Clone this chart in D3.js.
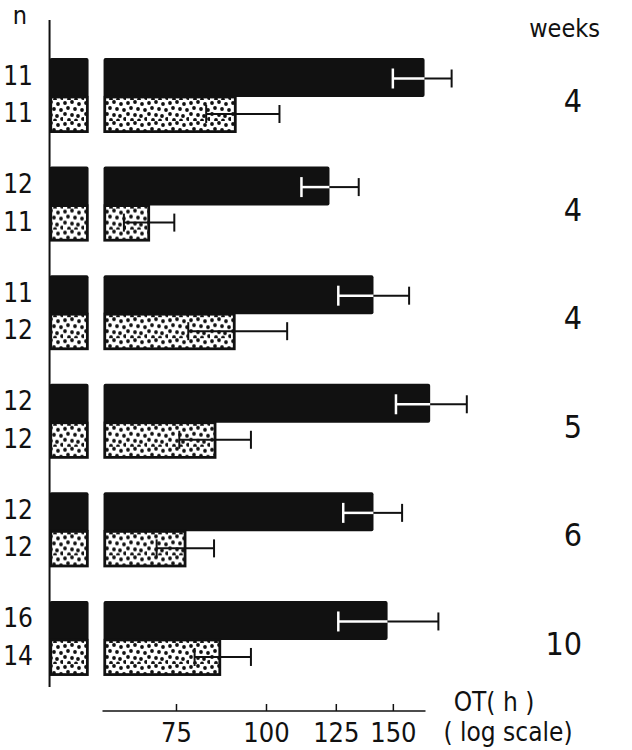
<!DOCTYPE html>
<html>
<head>
<meta charset="utf-8">
<script src="https://cdn.jsdelivr.net/npm/d3@7"></script>
<style>
  html, body { margin: 0; padding: 0; background: #fff; }
  svg text { font-family: 'Liberation Sans Narrow', 'DejaVu Sans Condensed', 'Liberation Sans', sans-serif; fill: #111; }
</style>
</head>
<body>
<svg id="chart" width="632" height="750"></svg>
<script>
// Operating time (h, log scale), mean with error-bar ends, six experiments
const groups      = [0, 1, 2, 3, 4, 5];
const weeks       = ["4", "4", "4", "5", "6", "10"];
const nBlack      = ["11", "12", "11", "12", "12", "16"];
const nDotted     = ["11", "11", "12", "12", "12", "14"];

const blackMean   = [166, 122.5, 141, 169, 141, 147.5];
const blackLow    = [150, 112, 126, 151.5, 128, 126];
const blackHigh   = [181, 134.5, 158, 190, 154.5, 173.5];

const dottedMean  = [91, 69, 90.7, 85.3, 77.5, 86.6];
const dottedLow   = [82.6, 63.5, 78, 75.8, 70.5, 79.6];
const dottedHigh  = [104.4, 74.6, 107, 95.3, 84.7, 95.3];

const tickValues  = [75, 100, 125, 150];
const axisDomain  = [59.3, 166.5];
const barBase     = 59.5;

const svg = d3.select("#chart");

// dotted fill texture
const defs = svg.append("defs");
const pat = defs.append("pattern")
  .attr("id", "dots").attr("patternUnits", "userSpaceOnUse")
  .attr("width", 21).attr("height", 21);
pat.append("rect").attr("width", 21).attr("height", 21).attr("fill", "#fff");
[[2,3],[9,2],[16,4],[5,8],[12,9],[19,10],[2,14],[9,15],[15,16],[6,20],[13,20.5],[20,19]]
  .forEach(([cx, cy]) => pat.append("circle").attr("cx", cx).attr("cy", cy).attr("r", 1.9).attr("fill", "#111"));

const x = d3.scaleLog().domain(axisDomain).range([102.5, 425.5]);
const y = d3.scaleBand().domain(groups).range([58, 676]).paddingInner(0.309);

const blackH = 39, dottedH = 36;
const leftX = x(barBase) - 54;
const stubW = 39;

// left vertical axis
svg.append("line")
  .attr("x1", leftX).attr("x2", leftX)
  .attr("y1", 20).attr("y2", 687)
  .attr("stroke", "#111").attr("stroke-width", 2);

const g = svg.selectAll("g.grp").data(groups).join("g").attr("class", "grp")
  .attr("transform", d => `translate(0,${y(d)})`);

// stubs next to the axis (broken-axis segment)
g.append("rect")
  .attr("x", leftX).attr("y", 0).attr("width", stubW).attr("height", blackH)
  .attr("rx", 2).attr("fill", "#111");
g.append("rect")
  .attr("x", leftX + 1.2).attr("y", blackH).attr("width", stubW - 2.4).attr("height", dottedH - 1.4)
  .attr("fill", "url(#dots)").attr("stroke", "#111").attr("stroke-width", 2.8);

// main bars
g.append("rect")
  .attr("x", x(barBase)).attr("y", 0)
  .attr("width", d => x(blackMean[d]) - x(barBase)).attr("height", blackH)
  .attr("rx", 2).attr("fill", "#111");
g.append("rect")
  .attr("x", x(barBase) + 1.2).attr("y", blackH)
  .attr("width", d => x(dottedMean[d]) - x(barBase) - 2.4).attr("height", dottedH - 1.4)
  .attr("fill", "url(#dots)").attr("stroke", "#111").attr("stroke-width", 2.8);

// error bars on black bars: white inside, black outside
const cap = 9;
const by = blackH / 2 + 1;
g.append("line")
  .attr("x1", d => x(blackLow[d])).attr("x2", d => x(blackMean[d]))
  .attr("y1", by).attr("y2", by).attr("stroke", "#fff").attr("stroke-width", 2.5);
g.append("line")
  .attr("x1", d => x(blackLow[d])).attr("x2", d => x(blackLow[d]))
  .attr("y1", by - cap - 1).attr("y2", by + cap + 1).attr("stroke", "#fff").attr("stroke-width", 2.5);
g.append("line")
  .attr("x1", d => x(blackMean[d])).attr("x2", d => x(blackHigh[d]))
  .attr("y1", by).attr("y2", by).attr("stroke", "#111").attr("stroke-width", 2);
g.append("line")
  .attr("x1", d => x(blackHigh[d])).attr("x2", d => x(blackHigh[d]))
  .attr("y1", by - cap).attr("y2", by + cap).attr("stroke", "#111").attr("stroke-width", 2);

// error bars on dotted bars
const dy = blackH + dottedH / 2 - 1;
g.append("line")
  .attr("x1", d => x(dottedLow[d])).attr("x2", d => x(dottedHigh[d]))
  .attr("y1", dy).attr("y2", dy).attr("stroke", "#111").attr("stroke-width", 2);
g.append("line")
  .attr("x1", d => x(dottedLow[d])).attr("x2", d => x(dottedLow[d]))
  .attr("y1", dy - cap).attr("y2", dy + cap).attr("stroke", "#111").attr("stroke-width", 2);
g.append("line")
  .attr("x1", d => x(dottedHigh[d])).attr("x2", d => x(dottedHigh[d]))
  .attr("y1", dy - cap).attr("y2", dy + cap).attr("stroke", "#111").attr("stroke-width", 2);

// n labels
g.append("text").attr("x", 33).attr("y", blackH / 2 - 2)
  .attr("text-anchor", "end").attr("dominant-baseline", "central")
  .attr("font-size", 26).text(d => nBlack[d]);
g.append("text").attr("x", 33).attr("y", blackH + dottedH / 2 - 2)
  .attr("text-anchor", "end").attr("dominant-baseline", "central")
  .attr("font-size", 26).text(d => nDotted[d]);

// weeks labels
g.append("text").attr("x", 582).attr("y", 43)
  .attr("text-anchor", "end").attr("dominant-baseline", "central")
  .attr("font-size", 32).text(d => weeks[d]);

svg.append("text").attr("x", 20).attr("y", 15)
  .attr("text-anchor", "middle").attr("dominant-baseline", "central")
  .attr("font-size", 25).text("n");
svg.append("text").attr("x", 600).attr("y", 28)
  .attr("text-anchor", "end").attr("dominant-baseline", "central")
  .attr("font-size", 25).text("weeks");

// bottom log axis
const axisY = 711;
const ax = svg.append("g").attr("transform", `translate(0,${axisY})`)
  .call(d3.axisTop(x).tickValues(tickValues).tickSize(7).tickFormat(d3.format("d")));
ax.select(".domain").attr("d", `M${x.range()[0]},0H${x.range()[1]}`)
  .attr("stroke", "#111").attr("stroke-width", 1.5);
ax.selectAll(".tick line").attr("stroke", "#111").attr("stroke-width", 1.5);
ax.selectAll(".tick text")
  .attr("y", 21).attr("dy", null).attr("dominant-baseline", "central")
  .attr("font-size", 27).attr("font-family", null).attr("fill", "#111");

svg.append("text").attr("x", 494).attr("y", 702)
  .attr("text-anchor", "middle").attr("dominant-baseline", "central")
  .attr("font-size", 26).text("OT( h )");
svg.append("text").attr("x", 508).attr("y", 732)
  .attr("text-anchor", "middle").attr("dominant-baseline", "central")
  .attr("font-size", 26).text("( log scale)");
</script>
</body>
</html>
